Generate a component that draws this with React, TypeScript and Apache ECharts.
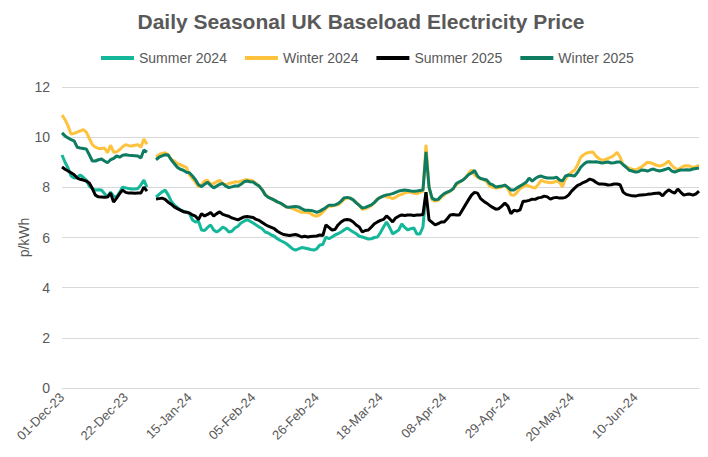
import React, { useEffect, useRef } from "react";
import * as echarts from "echarts";

const MONTHS = ["Jan","Feb","Mar","Apr","May","Jun","Jul","Aug","Sep","Oct","Nov","Dec"];
const SKIPPED = ["30-Dec-23", "31-Dec-23", "01-Jan-24"];

function buildDates(): string[] {
  const out: string[] = [];
  const start = Date.UTC(2023, 11, 1);
  const end = Date.UTC(2024, 6, 1);
  for (let t = start; t <= end; t += 86400000) {
    const d = new Date(t);
    const s = String(d.getUTCDate()).padStart(2, "0") + "-" + MONTHS[d.getUTCMonth()] + "-" + String(d.getUTCFullYear()).slice(2);
    if (!SKIPPED.includes(s)) out.push(s);
  }
  return out;
}
const dates = buildDates();

const seriesNames = ["Summer 2024", "Winter 2024", "Summer 2025", "Winter 2025"];
const seriesColors = ["#14B79A", "#FFC23D", "#000000", "#0E7C61"];

const summer2024: (number | null)[] = [
  9.29,9.0,8.77,8.45,8.37,8.4,8.49,8.4,8.29,8.05,
  7.95,7.89,7.9,7.89,7.75,7.61,7.81,7.65,7.61,7.8,
  8.01,7.98,7.95,7.93,7.93,7.95,8.1,8.29,8.01,null,
  null,7.61,7.72,7.82,7.89,7.7,7.45,7.3,7.2,7.1,
  7.05,7.01,6.95,6.7,6.62,6.65,6.3,6.28,6.4,6.5,
  6.3,6.22,6.3,6.42,6.35,6.22,6.25,6.38,6.45,6.58,
  6.65,6.7,6.65,6.58,6.5,6.42,6.35,6.22,6.18,6.1,
  6.05,5.95,5.88,5.82,5.75,5.65,5.55,5.5,5.55,5.6,
  5.58,5.55,5.52,5.5,5.55,5.7,5.72,6.02,5.95,6.02,
  6.1,6.15,6.22,6.3,6.38,6.3,6.22,6.15,6.05,6.02,
  5.98,5.94,5.95,6.0,6.02,6.2,6.42,6.62,6.4,6.14,
  6.22,6.3,6.54,6.4,6.3,6.35,6.38,6.14,6.14,6.42,
  7.8
];

const winter2024: (number | null)[] = [
  10.88,10.7,10.45,10.12,10.15,10.2,10.25,10.3,10.2,9.95,
  9.7,9.6,9.55,9.55,9.57,9.38,9.68,9.4,9.42,9.5,
  9.62,9.7,9.66,9.65,9.68,9.7,9.6,9.93,9.72,null,
  null,9.21,9.3,9.35,9.38,9.3,9.12,9.05,8.95,8.9,
  8.85,8.8,8.5,8.35,8.2,8.02,8.1,8.25,8.28,8.12,
  8.15,8.22,8.28,8.15,8.1,8.15,8.18,8.22,8.21,8.25,
  8.29,8.3,8.28,8.25,8.15,8.05,7.9,7.72,7.62,7.55,
  7.48,7.42,7.37,7.28,7.22,7.2,7.15,7.1,7.05,7.0,
  7.02,7.0,6.95,6.88,6.85,6.9,7.02,7.15,7.25,7.25,
  7.28,7.3,7.4,7.52,7.58,7.57,7.5,7.4,7.28,7.12,
  7.15,7.2,7.28,7.38,7.55,7.6,7.65,7.62,7.6,7.55,
  7.6,7.68,7.72,7.78,7.8,7.8,7.76,7.75,7.8,7.85,
  9.69,8.0,7.5,7.45,7.48,7.6,7.7,7.78,7.85,7.95,
  8.1,8.2,8.28,8.38,8.55,8.69,8.5,8.4,8.35,8.3,
  8.22,8.05,8.0,7.97,7.98,8.02,8.09,7.95,7.7,7.68,
  7.8,7.95,8.02,8.09,8.05,8.0,7.97,8.12,8.29,8.22,
  8.2,8.18,8.2,8.25,8.2,8.02,8.35,8.5,8.6,8.69,
  8.9,9.2,9.3,9.37,9.4,9.41,9.25,9.15,9.09,9.1,
  9.15,9.2,9.28,9.4,9.2,8.9,8.82,8.77,8.72,8.69,
  8.75,8.81,8.9,9.0,8.98,8.93,8.88,8.85,8.88,8.95,
  9.05,8.88,8.77,8.7,8.78,8.85,8.86,8.85,8.78,8.82,
  8.89
];

const summer2025: (number | null)[] = [
  8.81,8.72,8.65,8.58,8.5,8.37,8.32,8.29,8.25,8.17,
  7.95,7.69,7.62,7.61,7.6,7.61,7.77,7.41,7.57,7.75,
  7.89,7.8,7.77,7.77,7.76,7.77,7.77,8.01,7.85,null,
  null,7.53,7.55,7.57,7.52,7.41,7.33,7.22,7.15,7.09,
  7.03,7.01,6.98,6.9,6.85,6.72,6.95,6.86,6.92,7.0,
  6.86,6.95,7.02,6.92,6.88,6.85,6.78,6.74,6.7,6.76,
  6.82,6.84,6.82,6.8,6.72,6.68,6.6,6.52,6.45,6.4,
  6.35,6.25,6.18,6.12,6.1,6.08,6.1,6.12,6.08,6.02,
  6.05,6.02,6.04,6.05,6.06,6.1,6.08,6.5,6.4,6.3,
  6.32,6.5,6.62,6.7,6.72,6.7,6.62,6.5,6.42,6.22,
  6.28,6.3,6.42,6.55,6.62,6.68,6.72,6.86,6.75,6.62,
  6.78,6.85,6.9,6.88,6.9,6.9,6.88,6.9,6.9,6.92,
  7.81,6.7,6.6,6.5,6.55,6.62,6.62,6.75,6.9,6.92,
  6.9,6.9,7.1,7.3,7.5,7.69,7.8,7.77,7.55,7.45,
  7.37,7.28,7.2,7.13,7.15,7.25,7.37,7.25,6.95,7.09,
  7.05,7.1,7.45,7.45,7.48,7.53,7.52,7.58,7.6,7.65,
  7.62,7.53,7.58,7.6,7.57,7.57,7.6,7.69,7.85,7.97,
  8.08,8.13,8.2,8.25,8.33,8.29,8.2,8.13,8.13,8.12,
  8.09,8.1,8.13,8.13,8.1,7.81,7.72,7.69,7.66,7.65,
  7.68,7.69,7.7,7.72,7.73,7.75,7.76,7.77,7.66,7.8,
  7.9,7.82,7.77,7.93,7.8,7.69,7.72,7.73,7.69,7.74,
  7.85
];

const winter2025: (number | null)[] = [
  10.17,10.05,9.97,9.9,9.85,9.6,9.57,9.55,9.53,9.3,
  9.05,9.05,9.1,9.13,9.05,8.98,9.1,9.15,9.25,9.2,
  9.28,9.3,9.28,9.27,9.26,9.25,9.17,9.49,9.4,null,
  null,9.1,9.2,9.25,9.3,9.29,9.1,8.95,8.8,8.72,
  8.68,8.6,8.58,8.45,8.3,8.1,8.03,8.12,8.2,8.08,
  7.98,8.05,8.12,8.15,8.05,7.99,8.02,8.05,8.05,8.12,
  8.22,8.25,8.22,8.21,8.12,8.05,7.9,7.7,7.6,7.55,
  7.49,7.42,7.37,7.3,7.22,7.21,7.23,7.24,7.22,7.15,
  7.09,7.09,7.08,7.05,7.0,7.05,7.12,7.2,7.29,7.29,
  7.3,7.35,7.45,7.58,7.6,7.57,7.5,7.38,7.28,7.17,
  7.2,7.25,7.3,7.4,7.52,7.6,7.66,7.7,7.72,7.75,
  7.8,7.85,7.87,7.89,7.87,7.85,7.84,7.85,7.87,7.89,
  9.41,8.01,7.57,7.5,7.52,7.65,7.75,7.81,7.86,7.95,
  8.15,8.22,8.28,8.38,8.5,8.57,8.67,8.45,8.35,8.32,
  8.29,8.15,8.1,8.01,8.03,8.05,8.09,8.0,7.89,7.89,
  7.98,8.05,8.12,8.2,8.37,8.25,8.35,8.42,8.45,8.4,
  8.37,8.37,8.37,8.41,8.3,8.25,8.45,8.49,8.47,8.45,
  8.6,8.8,8.92,9.01,9.02,9.01,9.02,9.0,8.97,8.99,
  9.01,8.97,8.98,9.01,9.01,8.9,8.8,8.68,8.65,8.61,
  8.62,8.69,8.68,8.65,8.7,8.73,8.68,8.65,8.68,8.72,
  8.77,8.65,8.61,8.66,8.69,8.69,8.7,8.69,8.73,8.75,
  8.77
];

const allSeries = [summer2024, winter2024, summer2025, winter2025];
const FONT = "'Liberation Sans', Arial, sans-serif";

export default function App() {
  const ref = useRef<HTMLDivElement>(null);
  useEffect(() => {
    if (!ref.current) return;
    const chart = echarts.init(ref.current, undefined, { renderer: "svg" });
    chart.setOption({
      animation: false,
      textStyle: { fontFamily: FONT },
      title: {
        text: "Daily Seasonal UK Baseload Electricity Price",
        left: 361,
        top: 11,
        padding: 0,
        textAlign: "center",
        textStyle: { fontFamily: FONT, fontSize: 21, fontWeight: "bold", color: "#595959" },
      },
      legend: {
        top: 51,
        left: 101,
        padding: 0,
        icon: "rect",
        itemWidth: 33,
        itemHeight: 4,
        itemGap: 18,
        textStyle: { fontFamily: FONT, fontSize: 14, color: "#595959" },
        data: seriesNames,
      },
      grid: { left: 62, right: 9, top: 87, bottom: 69, containLabel: false },
      xAxis: {
        type: "category",
        data: dates,
        boundaryGap: false,
        axisLine: { lineStyle: { color: "#d9d9d9", width: 1 } },
        axisTick: { show: false },
        axisLabel: {
          interval: (index: number) => index % 21 === 0 && index < 200,
          rotate: 45,
          color: "#595959",
          fontSize: 13,
          margin: 7,
          fontFamily: FONT,
        },
        splitLine: { show: false },
      },
      yAxis: {
        type: "value",
        min: 0,
        max: 12,
        interval: 2,
        name: "p/kWh",
        nameLocation: "middle",
        nameGap: 31,
        nameMoveOverlap: false,
        nameTextStyle: { color: "#595959", fontSize: 14, fontFamily: FONT },
        axisLine: { show: false },
        axisTick: { show: false },
        axisLabel: { color: "#595959", fontSize: 14, margin: 12, fontFamily: FONT },
        splitLine: { lineStyle: { color: "#d9d9d9", width: 1 } },
      },
      series: seriesNames.map((name, i) => ({
        name,
        type: "line",
        data: allSeries[i],
        showSymbol: false,
        symbol: "none",
        connectNulls: false,
        lineStyle: { color: seriesColors[i], width: 3 },
        itemStyle: { color: seriesColors[i] },
      })),
    });
    return () => chart.dispose();
  }, []);
  return (
    <div
      ref={ref}
      style={{ position: "fixed", left: 0, top: 0, width: 708, height: 457, background: "#ffffff" }}
    />
  );
}
